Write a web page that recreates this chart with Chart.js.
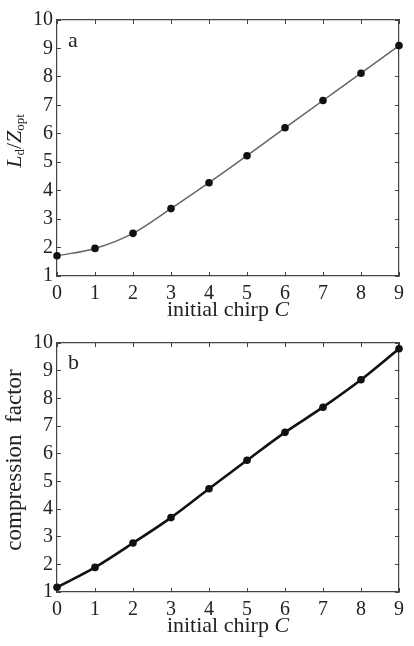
<!DOCTYPE html>
<html>
<head>
<meta charset="utf-8">
<script src="https://cdn.jsdelivr.net/npm/chart.js@4/dist/chart.umd.min.js"></script>
<style>
  body { margin: 0; background: #fff; }
  canvas { display: block; }
</style>
</head>
<body>
<canvas id="chart-a" width="414" height="323"></canvas>
<canvas id="chart-b" width="414" height="323"></canvas>
<script>
// initial chirp C
let chirp = [0, 1, 2, 3, 4, 5, 6, 7, 8, 9];
// panel a: L_d / Z_opt
let lengthRatio = [1.71, 1.97, 2.5, 3.37, 4.28, 5.23, 6.21, 7.17, 8.13, 9.1];
// panel b: compression factor
let compression = [1.17, 1.89, 2.77, 3.69, 4.73, 5.76, 6.77, 7.68, 8.67, 9.79];
let yTicks = [1, 2, 3, 4, 5, 6, 7, 8, 9, 10];

const serif = "'Liberation Serif', 'DejaVu Serif', serif";
const axisColor = "#444";
const textColor = "#222";

Chart.defaults.font.family = serif;
Chart.defaults.color = textColor;

function edgeAxis(position, size, showLabels, min, max) {
  let vertical = position === "left" || position === "right";
  return {
    type: "linear",
    position: position,
    min: min,
    max: max,
    afterBuildTicks: (scale) => {
      let vals = vertical ? yTicks : chirp;
      scale.ticks = vals.map((v) => ({ value: v }));
    },
    afterFit: (scale) => {
      if (vertical) scale.width = size;
      else scale.height = size;
    },
    grid: {
      drawOnChartArea: false,
      drawTicks: true,
      tickLength: -4,
      color: axisColor,
      lineWidth: 1,
    },
    border: { display: true, color: axisColor, width: 1.2 },
    ticks: {
      display: showLabels,
      font: { size: 20 },
      color: textColor,
      padding: position === "left" ? 8 : 10,
      maxRotation: 0,
    },
  };
}

// axis titles and panel letter, drawn as text
const titles = {
  id: "titles",
  afterDraw(chart, args, opts) {
    const ctx = chart.ctx;
    const area = chart.chartArea;
    ctx.save();
    ctx.fillStyle = textColor;
    ctx.textBaseline = "alphabetic";
    ctx.textAlign = "left";

    // x title: "initial chirp C"
    let a = "initial chirp ";
    ctx.font = "22px " + serif;
    let w1 = ctx.measureText(a).width;
    ctx.font = "italic 22px " + serif;
    let w2 = ctx.measureText("C").width;
    let x0 = (area.left + area.right) / 2 - (w1 + w2) / 2;
    ctx.font = "22px " + serif;
    ctx.fillText(a, x0, area.bottom + 40);
    ctx.font = "italic 22px " + serif;
    ctx.fillText("C", x0 + w1, area.bottom + 40);

    // panel letter
    ctx.font = "22px " + serif;
    ctx.fillText(opts.letter, area.left + 11, area.top + (opts.letter === "a" ? 27 : 26));

    // y title, rotated
    ctx.translate(opts.yx, opts.yc);
    ctx.rotate(-Math.PI / 2);
    let parts = opts.yParts;
    let total = 0;
    parts.forEach((p) => {
      ctx.font = p.font;
      p.w = ctx.measureText(p.text).width;
      total += p.w;
    });
    let px = -total / 2;
    parts.forEach((p) => {
      ctx.font = p.font;
      ctx.fillText(p.text, px, p.dy || 0);
      px += p.w;
    });
    ctx.restore();
  },
};

function makeChart(id, values, lineColor, lineWidth, topSize, bottomSize, letter, yx, yc, yParts) {
  let ctx = document.getElementById(id).getContext("2d");
  return new Chart(ctx, {
    type: "line",
    data: {
      datasets: [
        {
          data: chirp.map((c, i) => ({ x: c, y: values[i] })),
          borderColor: lineColor,
          borderWidth: lineWidth,
          pointRadius: 3.8,
          pointBackgroundColor: "#111",
          pointBorderColor: "#111",
          pointBorderWidth: 0,
          cubicInterpolationMode: "monotone",
          xAxisID: "x",
          yAxisID: "y",
          clip: false,
        },
      ],
    },
    options: {
      responsive: false,
      animation: false,
      layout: { padding: 0 },
      plugins: {
        legend: { display: false },
        tooltip: { enabled: false },
        titles: { letter: letter, yx: yx, yc: yc, yParts: yParts },
      },
      scales: {
        x: edgeAxis("bottom", bottomSize, true, 0, 9),
        x2: edgeAxis("top", topSize, false, 0, 9),
        y: edgeAxis("left", 57, true, 1, 10),
        y2: edgeAxis("right", 5, false, 1, 10),
      },
    },
    plugins: [titles],
  });
}

let chartA = makeChart("chart-a", lengthRatio, "#666", 1.5, 15, 47, "a", 21, 141, [
  { text: "L", font: "italic 22px " + serif },
  { text: "d", font: "13px " + serif, dy: 3 },
  { text: "/", font: "22px " + serif },
  { text: "Z", font: "italic 22px " + serif },
  { text: "opt", font: "13px " + serif, dy: 3 },
]);

let chartB = makeChart("chart-b", compression, "#111", 2.6, 10, 54, "b", 21, 137, [
  { text: "compression  factor", font: "23px " + serif },
]);
</script>
</body>
</html>
